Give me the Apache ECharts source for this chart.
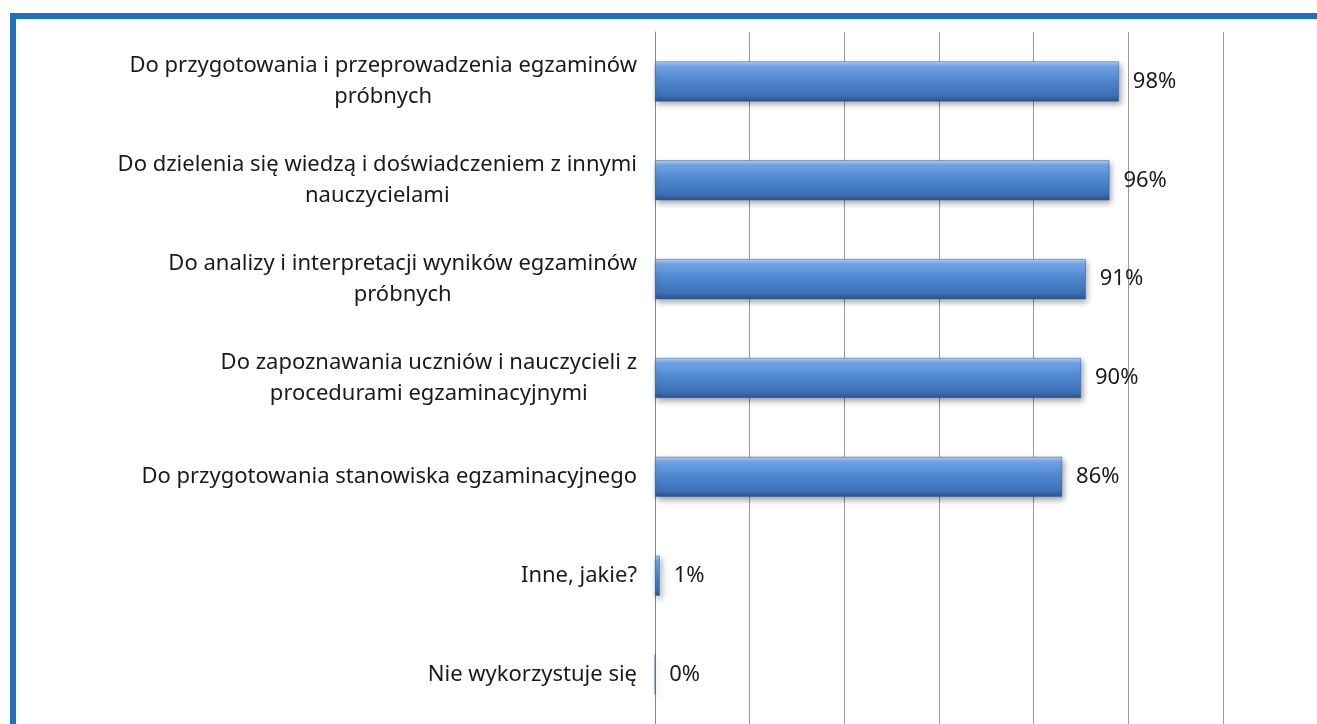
<!DOCTYPE html>
<html>
<head>
<meta charset="utf-8">
<script src="https://cdn.jsdelivr.net/npm/echarts@6/dist/echarts.min.js"></script>
<style>
  html, body { margin: 0; padding: 0; background: #fff; }
  #chart { width: 1317px; height: 724px; }
</style>
</head>
<body>
<div id="chart"></div>
<script>
// kategorie (od góry)
var categories = [
	'Do przygotowania i przeprowadzenia egzaminów\npróbnych',
	'Do dzielenia się wiedzą i doświadczeniem z innymi\nnauczycielami',
	'Do analizy i interpretacji wyników egzaminów\npróbnych',
	'Do zapoznawania uczniów i nauczycieli z\nprocedurami egzaminacyjnymi',
	'Do przygotowania stanowiska egzaminacyjnego',
	'Inne, jakie?',
	'Nie wykorzystuje się'
];
// wartości w %
var values = [98, 96, 91, 90, 86, 1, 0];

var myChart = echarts.init(document.getElementById('chart'));

var barColor = new echarts.graphic.LinearGradient(0, 0, 0, 1, [
	{ offset: 0, color: '#b3d0f5' },
	{ offset: 0.12, color: '#72a5e6' },
	{ offset: 0.45, color: '#5089d2' },
	{ offset: 0.85, color: '#3d70b6' },
	{ offset: 1, color: '#2b5289' }
]);

var option = {
	animation: false,
	textStyle: { fontFamily: 'Noto Sans' },
	graphic: [
		// niebieska ramka (góra i lewa)
		{ type: 'rect', shape: { x: 10, y: 13, width: 1307, height: 6 }, style: { fill: '#1f70bd' } },
		{ type: 'rect', shape: { x: 10, y: 13, width: 6, height: 711 }, style: { fill: '#1f70bd' } }
	],
	grid: {
		left: 655,
		right: 94,
		top: 32,
		bottom: -9
	},
	xAxis: {
		type: 'value',
		min: 0,
		max: 120,
		interval: 20,
		axisLabel: { show: false },
		axisTick: { show: false },
		axisLine: { show: false },
		splitLine: {
			lineStyle: { color: '#999', width: 1 }
		}
	},
	yAxis: {
		type: 'category',
		inverse: true,
		data: categories,
		axisLine: {
			lineStyle: { color: '#888', width: 1 }
		},
		axisTick: {
			length: 9,
			lineStyle: { color: '#888' }
		},
		axisLabel: {
			margin: 18,
			formatter: function (val) {
				return val.split('\n').map(function (s) { return '{c|' + s + '}'; }).join('\n');
			},
			rich: {
				c: {
					align: 'center',
					fontSize: 22,
					lineHeight: 31,
					color: '#1a1a1a',
					fontFamily: 'Noto Sans'
				}
			}
		}
	},
	series: [{
		type: 'bar',
		data: values,
		barWidth: 40,
		itemStyle: {
			color: barColor,
			borderColor: '#2f5d9a',
			borderWidth: 0.5,
			shadowColor: 'rgba(0,0,0,0.35)',
			shadowBlur: 6,
			shadowOffsetX: 2,
			shadowOffsetY: 3
		},
		label: {
			show: true,
			position: 'right',
			distance: 14,
			formatter: '{c}%',
			fontSize: 22,
			color: '#1a1a1a',
			fontFamily: 'Noto Sans'
		}
	}]
};

myChart.setOption(option);
</script>
</body>
</html>
